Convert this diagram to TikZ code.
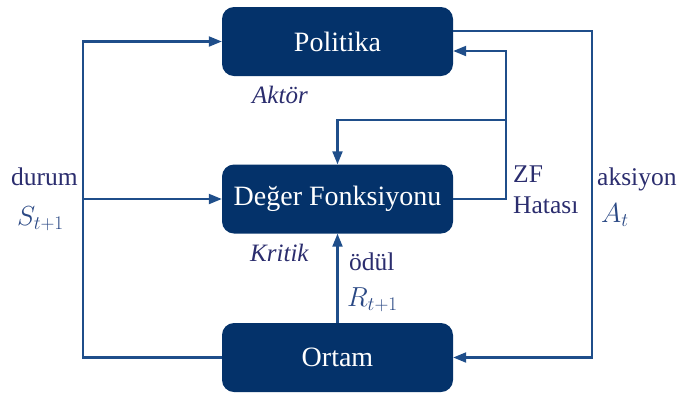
\RequirePackage{fix-cm}
\documentclass[tikz,border=0pt]{standalone}
\usepackage{fontspec}
\setmainfont{Liberation Serif}
\usetikzlibrary{arrows.meta,calc}
\definecolor{boxnavy}{HTML}{04326A}
\definecolor{wire}{HTML}{1F4E8A}
\definecolor{labelink}{HTML}{2B2D6E}
\definecolor{mathink}{HTML}{2A4884}
\tikzset{
  block/.style={fill=boxnavy, draw=none, rounded corners=12pt,
    minimum width=231pt, minimum height=69pt, text=white,
    font=\fontsize{28}{30}\selectfont, inner sep=0pt},
  wireline/.style={draw=wire, line width=2.1pt},
  flow/.style={wireline, -{Triangle[length=13pt,width=10pt]}},
  lbl/.style={text=labelink, font=\rmfamily\fontsize{25.5}{28}\selectfont, inner sep=0pt, anchor=base west},
  itlbl/.style={lbl, font=\rmfamily\fontsize{25}{28}\selectfont\itshape},
  mlbl/.style={text=mathink, font=\fontsize{27.5}{30}\selectfont, inner sep=0pt, anchor=base west}
}
\begin{document}
\begin{tikzpicture}[x=1pt,y=-1pt]
\useasboundingbox (0,0) rectangle (678,392);

% blocks
\node[block] (pol) at (337.5,41.5) {Politika};
\node[block] (val) at (337.5,199) {Değer Fonksiyonu};
\node[block] (env) at (337.5,357.5) {Ortam};

% helper corners of the loops
\coordinate (lc) at (83,357.5);
\coordinate (ac) at (592,31);
\coordinate (zc) at (506,51);
\coordinate (bc) at (337.5,120);

% state feedback on the left
\draw[flow] (env.west) -- (lc) |- (pol.west);
\draw[flow] (lc |- val.west) -- (val.west);

% action on the right
\draw[flow] (pol.east |- ac) -- (ac) |- (env.east);

% TD error back to the actor and critic
\draw[flow] (val.east) -| (zc) -- (pol.east |- zc);
\draw[flow] (zc |- bc) -- (bc) -- (val.north);

% reward
\draw[flow] (env.north) -- (val.south);

% labels
\node[itlbl] (aktor) at (252,103) {Aktör};
\node[itlbl] (kritik) at (250,261) {Kritik};
\node[lbl] (durum) at (11,185) {durum};
\node[mlbl] (st) at (17,225) {$S_{t+1}$};
\node[lbl] (zf) at (513,182) {ZF};
\node[lbl] (hata) at (513,213) {Hatası};
\node[lbl] (aks) at (597,185) {aksiyon};
\node[mlbl] (at) at (601,222) {$A_t$};
\node[lbl] (odul) at (349,270) {ödül};
\node[mlbl] (rt) at (347,306) {$R_{t+1}$};
\end{tikzpicture}
\end{document}
